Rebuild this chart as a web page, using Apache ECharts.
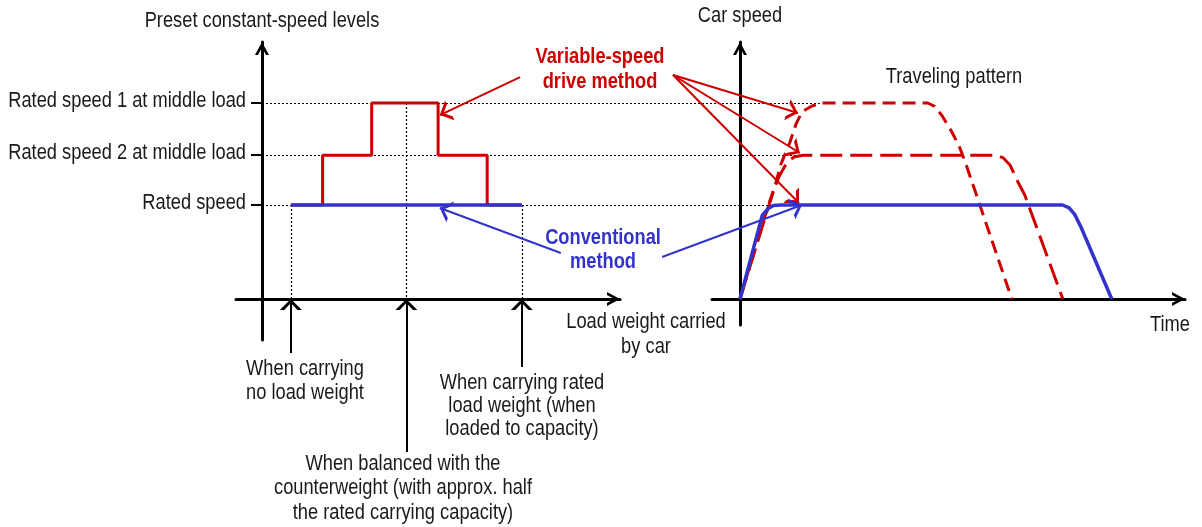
<!DOCTYPE html>
<html>
<head>
<meta charset="utf-8">
<script src="https://cdn.jsdelivr.net/npm/echarts@6/dist/echarts.min.js"></script>
<style>
  html, body { margin: 0; padding: 0; background: #fff; }
  #chart { width: 1202px; height: 527px; }
</style>
</head>
<body>
<div id="chart"></div>
<script>
// left panel: preset speed level vs load carried (load units, speed in % of rated)
var loadSteps = [1, 2.1, 3.8, 6.1, 7.8, 9];
var variableLevels = [100, 153, 208.5, 153, 100, 100];
var conventionalLoad = [1, 9];
var conventionalLevel = [100, 100];
var levelValues = [100, 153, 208.5];
var levelLabels = ['Rated speed', 'Rated speed 2 at middle load', 'Rated speed 1 at middle load'];
var markedLoads = [1, 5, 9];
var markedLoadTop = [100, 208.5, 100];
var guideEnds = [18.04, 18.74, 19.32]; // where the dotted level lines stop (left-panel load units)

// right panel: car speed vs time
var blueTime = [0, 1.2, 1.5, 1.8, 2.2, 17.4, 17.75, 18.05, 18.4, 20.05];
var blueSpeed = [0, 89, 96, 99.5, 100, 100, 97, 90, 76, 0];
var red1Time = [0, 1.5, 1.9, 2.2, 2.7, 3.02, 3.34, 3.88, 4.42, 10.13, 10.5, 10.9, 11.43, 11.86, 12.24, 14.66];
var red1Speed = [0, 98, 121, 143, 167, 186, 199, 205.3, 208.5, 208.5, 205, 195, 177.7, 160.6, 140.4, 0];
var red2Time = [0, 1.5, 1.8, 2.1, 2.5, 2.9, 3.4, 13.85, 14.2, 14.56, 14.99, 15.36, 17.41];
var red2Speed = [0, 96, 114, 130, 144, 151, 153, 153, 150, 142.6, 124.5, 110.6, 0];

var RED = '#cc0000';
var BLUE = '#3333cc';
var INK = '#1a1a1a';
var FONT = "'Liberation Sans', Arial, sans-serif";
var FS = 21.5;
var NARROW = 0.85; // squeeze Liberation Sans to look like Arial Narrow

// open chevron arrow heads, tip at centre of their box
var ARROW = 'path://M5,0L5.01,0ZM5,10L10,20L8,20L5,13.6L2,20L0,20Z';
var AXIS_ARROW = 'path://M7,0L7.01,0ZM7,13L14,26L11,26L7,18.5L3,26L0,26Z';

function pairs(xs, ys) {
  return xs.map(function (x, i) { return [x, ys[i]]; });
}

function note(text, x, y, color, weight, lh, align) {
  return {
    type: 'text', x: x, y: y, z: 10, silent: true, scaleX: NARROW,
    style: {
      text: text, fill: color, fontFamily: FONT, fontSize: FS, fontWeight: weight,
      lineHeight: lh, textAlign: align || 'center', textVerticalAlign: 'middle'
    }
  };
}

var myChart = echarts.init(document.getElementById('chart'));

var guideLines = levelValues.map(function (v, i) {
  return { coords: [[0, v], [guideEnds[i], v]] };
}).concat(markedLoads.map(function (x, i) {
  return { coords: [[x, markedLoadTop[i]], [x, 0]] };
}));

var axisLine = { onZero: true, symbol: ['none', AXIS_ARROW], symbolSize: [14, 26], lineStyle: { color: '#000', width: 3 } };

function arrow(from, to, color) {
  return { coords: [from, to], lineStyle: { color: color, width: 2, opacity: 1 } };
}

var option = {
  animation: false,
  grid: [
    { left: 236, top: 42, width: 384, height: 298, containLabel: false, outerBoundsMode: 'none' },
    { left: 712, top: 42, width: 473, height: 283, containLabel: false, outerBoundsMode: 'none' }
  ],
  xAxis: [
    {
      gridIndex: 0, type: 'value', min: -0.9, max: 12.4, axisLine: axisLine,
      axisTick: { show: false }, axisLabel: { show: false }, splitLine: { show: false }
    },
    {
      gridIndex: 1, type: 'value', min: -1.509, max: 24, axisLine: axisLine,
      axisTick: { show: false }, axisLabel: { show: false }, splitLine: { show: false }
    }
  ],
  yAxis: [
    {
      gridIndex: 0, type: 'value', min: -43.6, max: 273.4, axisLine: axisLine,
      axisTick: { show: true, customValues: levelValues, length: 11, lineStyle: { color: '#000', width: 2 } },
      axisLabel: { show: false },
      splitLine: { show: false }
    },
    {
      gridIndex: 1, type: 'value', min: -27.66, max: 273.4, axisLine: axisLine,
      axisTick: { show: false }, axisLabel: { show: false }, splitLine: { show: false }
    }
  ],
  series: [
    {
      name: 'guides', type: 'lines', coordinateSystem: 'cartesian2d',
      xAxisIndex: 0, yAxisIndex: 0, clip: false, silent: true,
      lineStyle: { color: '#000', width: 1.2, type: [2, 2], opacity: 1 },
      data: guideLines, z: 1
    },
    {
      name: 'Variable-speed drive method', type: 'line', xAxisIndex: 0, yAxisIndex: 0,
      step: 'end', showSymbol: false, lineStyle: { color: RED, width: 3 },
      data: pairs(loadSteps, variableLevels), z: 3
    },
    {
      name: 'Conventional method', type: 'line', xAxisIndex: 0, yAxisIndex: 0,
      showSymbol: false, lineStyle: { color: BLUE, width: 3.5 },
      data: pairs(conventionalLoad, conventionalLevel), z: 4
    },
    {
      name: 'Conventional pattern', type: 'line', xAxisIndex: 1, yAxisIndex: 1,
      showSymbol: false, lineStyle: { color: BLUE, width: 3.5 },
      data: pairs(blueTime, blueSpeed), z: 4
    },
    {
      name: 'Speed 1 pattern', type: 'line', xAxisIndex: 1, yAxisIndex: 1,
      showSymbol: false, lineStyle: { color: RED, width: 3, type: [13, 7] },
      data: pairs(red1Time, red1Speed), z: 3
    },
    {
      name: 'Speed 2 pattern', type: 'line', xAxisIndex: 1, yAxisIndex: 1,
      showSymbol: false, lineStyle: { color: RED, width: 3, type: [22, 8] },
      data: pairs(red2Time, red2Speed), z: 3
    },
    // annotation arrows, left panel
    {
      type: 'lines', coordinateSystem: 'cartesian2d', xAxisIndex: 0, yAxisIndex: 0,
      clip: false, silent: true, symbol: ['none', ARROW], symbolSize: [12, 22], z: 6,
      lineStyle: { opacity: 1, width: 2 },
      data: [
        arrow([8.94, 236], [6.16, 195.7], RED),
        arrow([10.35, 48.9], [6.16, 96.8], BLUE),
        arrow([1, -57.4], [1, 0], '#000'),
        arrow([5, -162.8], [5, 0], '#000'),
        arrow([9, -72.3], [9, 0], '#000')
      ]
    },
    // annotation arrows, right panel
    {
      type: 'lines', coordinateSystem: 'cartesian2d', xAxisIndex: 1, yAxisIndex: 1,
      clip: false, silent: true, symbol: ['none', ARROW], symbolSize: [12, 22], z: 6,
      lineStyle: { opacity: 1, width: 2 },
      data: [
        arrow([-3.61, 238.3], [3.13, 197.9], RED),
        arrow([-3.61, 238.3], [3.23, 155.3], RED),
        arrow([-3.61, 238.3], [3.18, 102.1], RED),
        arrow([-4.2, 44.7], [3.34, 100], BLUE)
      ]
    }
  ]
};

myChart.setOption(option);

// texts: tick labels and axis names placed from the axes, notes next to the marks
var texts = [];
levelValues.forEach(function (v, i) {
  var p = myChart.convertToPixel({ gridIndex: 0 }, [0, v]);
  texts.push(note(levelLabels[i], p[0] - 16, p[1] - 2, INK, 'normal', 24, 'right'));
});
var leftTop = myChart.convertToPixel({ gridIndex: 0 }, [0, 273.4]);
var rightTop = myChart.convertToPixel({ gridIndex: 1 }, [0, 273.4]);
texts.push(note('Preset constant-speed levels', leftTop[0], leftTop[1] - 21, INK, 'normal', 24));
texts.push(note('Car speed', rightTop[0], rightTop[1] - 26, INK, 'normal', 24));
texts.push(
  note('Variable-speed\ndrive method', 600, 70, RED, 'bold', 25),
  note('Conventional\nmethod', 603, 250, BLUE, 'bold', 24),
  note('Traveling pattern', 954, 77, INK, 'normal', 24),
  note('Time', 1170, 325, INK, 'normal', 24),
  note('Load weight carried\nby car', 646, 335, INK, 'normal', 25),
  note('When carrying\nno load weight', 305, 381, INK, 'normal', 24),
  note('When carrying rated\nload weight (when\nloaded to capacity)', 522, 406, INK, 'normal', 23),
  note('When balanced with the\ncounterweight (with approx. half\nthe rated carrying capacity)', 403, 488.5, INK, 'normal', 24.5)
);
myChart.setOption({ graphic: texts });
</script>
</body>
</html>
